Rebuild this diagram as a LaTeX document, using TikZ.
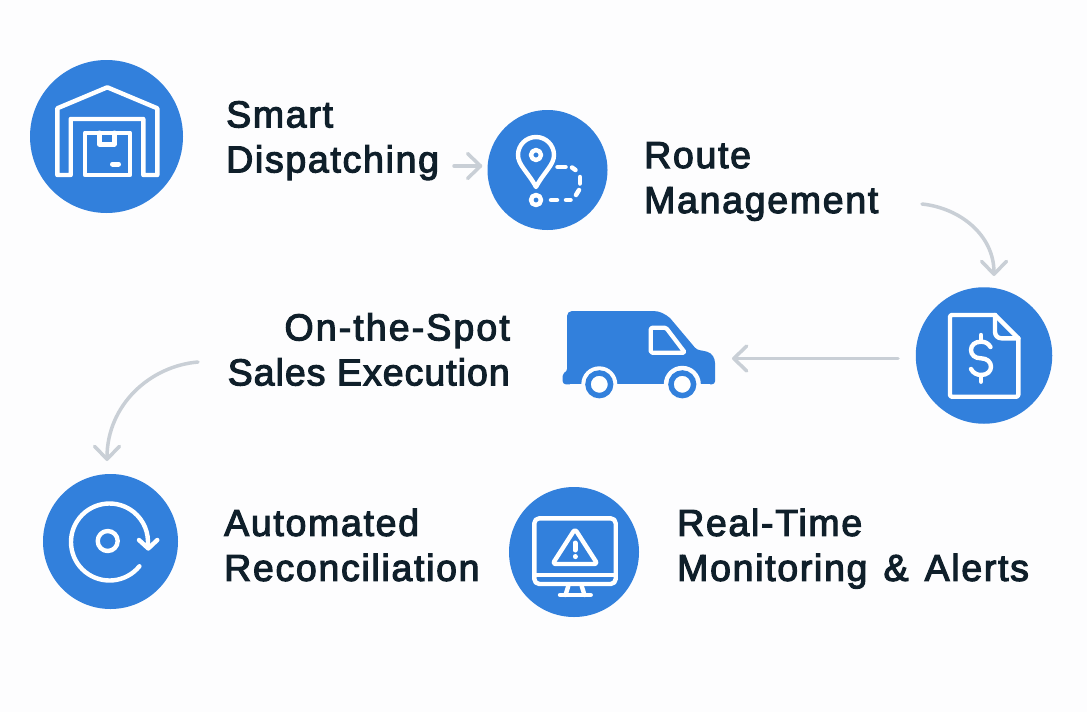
\documentclass[tikz,border=0pt]{standalone}
\usepackage{fontspec}
\usetikzlibrary{arrows.meta}
\newfontfamily\lab{Liberation Sans}[FakeBold=3,LetterSpace=4.5]
\newfontfamily\labtight{Liberation Sans}[FakeBold=3,LetterSpace=2.7]
\newfontfamily\labwide{Liberation Sans}[FakeBold=3,LetterSpace=5.6]
\definecolor{bg}{HTML}{FDFDFE}
\definecolor{blu}{HTML}{3280DC}
\definecolor{gry}{HTML}{C9CFD6}
\definecolor{ink}{HTML}{0F1F2A}
\tikzset{
  disc/.style={circle,fill=blu,draw=none,inner sep=0pt,minimum size=#1},
  lbl/.style={inner sep=0pt,text=ink,font=\lab\fontsize{37.5pt}{45pt}\selectfont,anchor=north west,align=left},
  lblr/.style={lbl,anchor=north east,align=right},
  ico/.style={draw=white,line width=4.4pt,line join=round,line cap=round},
  flow/.style={draw=gry,line width=3.5pt,line cap=round,-{Straight Barb[length=13pt,width=25pt,line width=3.5pt,round]}}
}
\begin{document}
\begin{tikzpicture}[x=1pt,y=-1pt]
\useasboundingbox (0,0) rectangle (1087,712);
\fill[bg] (0,0) rectangle (1087,712);
% discs
\node[disc=153pt] (c1) at (106.5,136.5) {};
\node[disc=120pt] (c2) at (547.5,170) {};
\node[disc=136.5pt] (c3) at (984,355.5) {};
\node[disc=135pt] (c4) at (110.5,541.5) {};
\node[disc=130pt] (c5) at (574,552) {};
% labels
\node[lbl] (t1) at (226,101) {Smart\\Dispatching};
\node[lbl] (t2) at (644,142) {Route\\Management};
\node[lblr] (t3) at (510,313) {{\labwide On-the-Spot}\\{\labtight Sales Execution}};
\node[lbl] (t4) at (224,508.5) {Automated\\Reconciliation};
\node[lbl] (t5) at (677,508.5) {Real-Time\\Monitoring\hspace{4pt} \&\hspace{4pt} Alerts};
% warehouse
\draw[ico] (57.3,175) -- (57.3,108.3) -- (107.3,87.3) -- (157.3,108.3) -- (157.3,175) -- (143.3,175) -- (143.3,119) -- (70.7,119) -- (70.7,175) -- cycle;
\draw[ico] (85,132.7) rectangle (130,175);
\draw[ico] (99.3,132.7) -- (99.3,144.3) -- (114.3,144.3) -- (114.3,132.7);
\draw[ico,line width=5pt] (112.5,164) -- (118.5,164);
% pin
\draw[ico] (536,187) .. controls (528,172) and (518,165) .. (518,155) arc (180:360:18) .. controls (554,165) and (544,172) .. (536,187) -- cycle;
\draw[ico] (536,155) circle (5);
\draw[ico,line width=4.5pt] (536,200) circle (5);
\draw[ico,line width=4.5pt] (557.5,167) -- (565.5,167);
\draw[ico,line width=4.5pt] (572,167.5) -- (575.5,170);
\draw[ico,line width=4.5pt] (580,177) -- (580,183.5);
\draw[ico,line width=4.5pt] (579,190) -- (576,195);
\draw[ico,line width=4.5pt] (566,200) -- (570.5,200);
\draw[ico,line width=4.5pt] (551,200) -- (557,200);
% invoice
\draw[ico,rounded corners=2pt] (995,315) -- (950,315) -- (950,396.7) -- (1018.3,396.7) -- (1018.3,338.3);
\draw[ico] (995,315) -- (1018.3,338.3);
\draw[ico] (995,315) -- (995,332) arc (180:90:6.3) -- (1018.3,338.3);
\draw[ico] (990.5,347) .. controls (988,343) and (985,341.7) .. (981,341.7) .. controls (975,341.7) and (971,345) .. (971,350) .. controls (971,355) and (975,358.3) .. (981,358.3) .. controls (987,358.3) and (991,362) .. (991,366.7) .. controls (991,371.5) and (987,375) .. (981,375) .. controls (977,375) and (973,373) .. (971,369);
\draw[ico] (981,335) -- (981,341.7);
\draw[ico] (981,375) -- (981,381.7);
% van
\coordinate (van) at (716,358);
\fill[blu,rounded corners=5pt] (567,372) -- (567,311) -- (640,311) [sharp corners] -- (653,311) .. controls (660,311) and (665,314) .. (670,318) -- (695,347.7) .. controls (698,351) and (702,350) .. (707,351.7) .. controls (712,353) and (715,358) .. (715,363) [rounded corners=3pt] -- (715,384.3) -- (562.7,384.3) -- (562.7,373) -- cycle;
\fill[bg] (599.3,384.3) circle (18);
\fill[bg] (682.3,384.3) circle (18.5);
\fill[bg] (570,384.3) rectangle (710,400);
\draw[blu,line width=5.5pt,fill=white] (599.3,384.3) circle (11.3);
\draw[blu,line width=5.5pt,fill=white] (682.3,384.3) circle (11.3);
\draw[white,line width=4.2pt,line join=round,rounded corners=1.5pt,fill=blu] (650.7,327.7) -- (666,327.7) -- (685,352.7) -- (650.7,352.7) -- cycle;
% reconciliation
\draw[ico] (109.5,542) ++(39:38.5) arc (39:366:38.5);
\draw[ico] (139,540) -- (148.3,548.5) -- (157.3,540);
\draw[ico] (107.7,541) circle (10);
% monitor
\draw[ico,rounded corners=5pt] (534.3,518.3) rectangle (615.7,584);
\draw[ico] (534.3,575) -- (615.7,575);
\draw[ico] (568.3,586) -- (565.5,595);
\draw[ico] (581.7,586) -- (584.5,595);
\draw[ico] (560,595) -- (590.7,595);
\draw[ico,rounded corners=3pt] (575,529) -- (597.5,564) -- (552.5,564) -- cycle;
\draw[ico,line width=5pt] (575,543) -- (575,550);
\draw[ico,line width=5pt] (575,556.5) -- (575,556.6);
% connectors
\coordinate (a1s) at (454,166);
\coordinate (a2s) at (922,204);
\coordinate (a2e) at (994,276);
\coordinate (a3s) at (898,358.5);
\coordinate (a4s) at (198,362);
\coordinate (a4e) at (107,461);
\draw[flow] (a1s) -- ([xshift=-5pt]c2.west |- a1s);
\draw[flow] (a2s) .. controls (960,208) and (994,235) .. (a2e);
\draw[flow] (a3s) -- ([xshift=16pt]van |- a3s);
\draw[flow] (a4s) .. controls (150,366) and (107,405) .. (a4e);
\end{tikzpicture}
\end{document}
